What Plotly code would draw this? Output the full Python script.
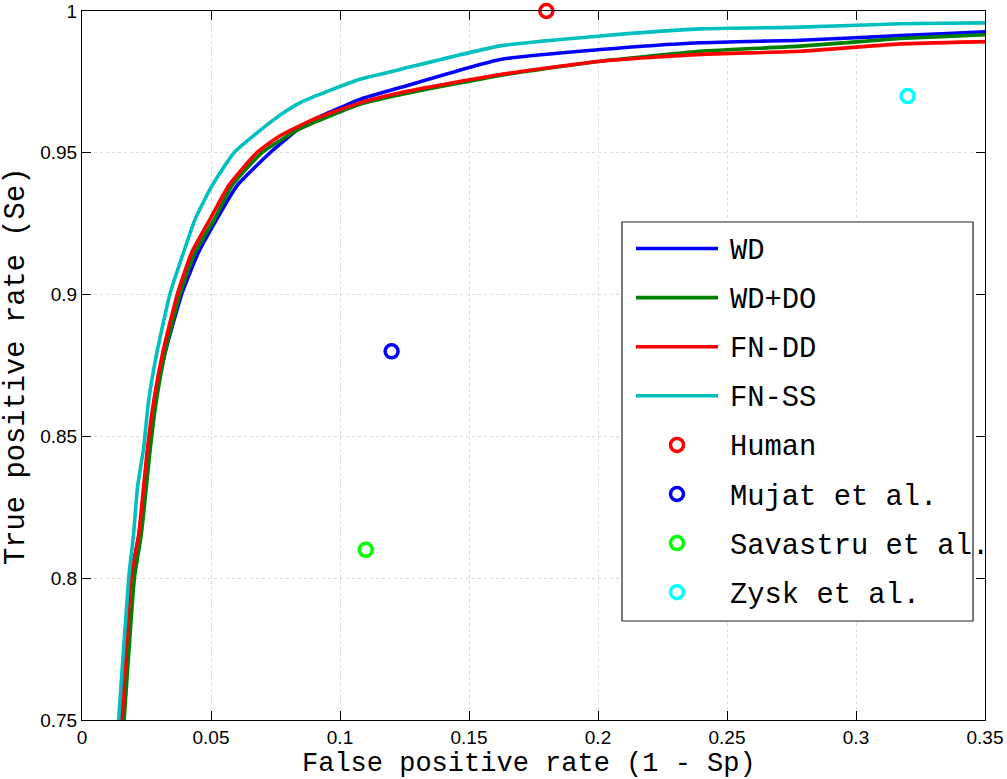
import plotly.graph_objects as go

# ---------------- data ----------------
series_names = ["WD", "WD+DO", "FN-DD", "FN-SS"]
series_colors = ["#0000ff", "#008000", "#ff0000", "#00bfbf"]

wd_x = [0.0140, 0.0149, 0.0188, 0.0222, 0.0258, 0.0281, 0.0323, 0.0388, 0.0452, 0.0523,
        0.0601, 0.0730, 0.0846, 0.0900, 0.1080, 0.1234, 0.1621, 0.2009, 0.2396, 0.2784,
        0.3171, 0.3500, 0.3600]
wd_y = [0.745, 0.750, 0.800, 0.8156, 0.8460, 0.8624, 0.8799, 0.9006, 0.9150, 0.9267,
        0.9384, 0.9501, 0.9589, 0.9618, 0.9689, 0.9730, 0.9829, 0.9864, 0.9888, 0.9897,
        0.9913, 0.9927, 0.9930]

wddo_x = [0.0157, 0.0163, 0.0203, 0.0230, 0.0265, 0.0288, 0.0323, 0.0381, 0.0439, 0.0514,
          0.0581, 0.0698, 0.0846, 0.1080, 0.1234, 0.1621, 0.2009, 0.2396, 0.2784, 0.3171,
          0.3500, 0.3600]
wddo_y = [0.745, 0.750, 0.800, 0.8156, 0.8460, 0.8624, 0.8799, 0.9006, 0.9150, 0.9267,
          0.9384, 0.9501, 0.9585, 0.9672, 0.9705, 0.9773, 0.9823, 0.9858, 0.9876, 0.9903,
          0.9916, 0.9920]

fndd_x = [0.0150, 0.0155, 0.0190, 0.0220, 0.0254, 0.0278, 0.0314, 0.0371, 0.0426, 0.0497,
          0.0568, 0.0678, 0.0768, 0.0845, 0.0897, 0.1080, 0.1234, 0.1621, 0.2009, 0.2396,
          0.2784, 0.3171, 0.3500, 0.3600]
fndd_y = [0.745, 0.750, 0.800, 0.8156, 0.8460, 0.8624, 0.8799, 0.9006, 0.9150, 0.9267,
          0.9384, 0.9501, 0.9560, 0.9596, 0.9618, 0.9677, 0.9712, 0.9776, 0.9823, 0.9847,
          0.9858, 0.9884, 0.9892, 0.9894]

fnss_x = [0.0137, 0.0142, 0.0181, 0.0200, 0.0215, 0.0239, 0.0258, 0.0291, 0.0342,
          0.0394, 0.0439, 0.0504, 0.0590, 0.0745, 0.0846, 0.1080, 0.1234, 0.1621, 0.2009,
          0.2396, 0.2784, 0.3171, 0.3500, 0.3600]
fnss_y = [0.745, 0.750, 0.800, 0.8156, 0.8320, 0.8460, 0.8624, 0.8799, 0.9006,
          0.9150, 0.9267, 0.9384, 0.9501, 0.9618, 0.9677, 0.9760, 0.9794, 0.9877, 0.9912,
          0.9937, 0.9943, 0.9955, 0.9958, 0.9960]

series_x = [wd_x, wddo_x, fndd_x, fnss_x]
series_y = [wd_y, wddo_y, fndd_y, fnss_y]

point_names = ["Human", "Mujat et al.", "Savastru et al.", "Zysk et al."]
point_x = [0.18, 0.12, 0.11, 0.32]
point_y = [1.00, 0.88, 0.81, 0.97]
point_colors = ["#ff0000", "#0000ff", "#00ff00", "#00ffff"]

x_tickvals = [0, 0.05, 0.1, 0.15, 0.2, 0.25, 0.3, 0.35]
x_ticktext = ["0", "0.05", "0.1", "0.15", "0.2", "0.25", "0.3", "0.35"]
y_tickvals = [0.75, 0.8, 0.85, 0.9, 0.95, 1.0]
y_ticktext = ["0.75", "0.8", "0.85", "0.9", "0.95", "1"]

x_title = "False positive rate (1 - Sp)"
y_title = "True positive rate (Se)"

# ---------------- figure ----------------
W, H = 1007, 779
ML, MR, MT, MB = 82, 22, 11, 59
PW, PH = W - ML - MR, H - MT - MB

fig = go.Figure()
for name, col, xs, ys in zip(series_names, series_colors, series_x, series_y):
    fig.add_trace(go.Scatter(x=xs, y=ys, mode="lines", name=name,
                             line=dict(color=col, width=3.6, shape="spline", smoothing=0.5),
                             showlegend=False))
for name, col, px_, py_ in zip(point_names, point_colors, point_x, point_y):
    fig.add_trace(go.Scatter(x=[px_], y=[py_], mode="markers", name=name,
                             marker=dict(symbol="circle-open", size=13, color=col,
                                         line=dict(color=col, width=3.5)),
                             cliponaxis=False, showlegend=False))

mono = "Liberation Mono, Courier New, monospace"
sans = "Liberation Sans, Arial, sans-serif"

axis_common = dict(
    showline=True, linecolor="black", linewidth=1, mirror="ticks",
    ticks="inside", ticklen=9, tickcolor="black", tickwidth=1,
    showgrid=True, gridcolor="#dadada", griddash="dot", gridwidth=1,
    zeroline=False, ticklabeloverflow="allow",
    tickfont=dict(family=sans, size=19, color="black"),
)
fig.update_xaxes(range=[0, 0.35], tickvals=x_tickvals, ticktext=x_ticktext, **axis_common)
fig.update_yaxes(range=[0.75, 1.0], tickvals=y_tickvals, ticktext=y_ticktext, **axis_common)

# ---------------- helpers for paper-pixel placement ----------------
def px2x(p):
    return (p - ML) / PW

def py2y(p):
    return (H - MB - p) / PH

annotations = [
    dict(xref="paper", yref="paper", x=px2x(529), y=py2y(763.5), text=x_title,
         showarrow=False, xanchor="center", yanchor="middle",
         font=dict(family=mono, size=27, color="black")),
    dict(xref="paper", yref="paper", x=px2x(16), y=py2y(367), text=y_title,
         showarrow=False, xanchor="center", yanchor="middle", textangle=-90,
         font=dict(family=mono, size=28.8, color="black")),
]

# ---------------- legend (drawn in paper coordinates) ----------------
box_l, box_r, box_t, box_b = 622, 973, 222, 621
shapes = [dict(type="rect", xref="paper", yref="paper",
               x0=px2x(box_l), x1=px2x(box_r), y0=py2y(box_b), y1=py2y(box_t),
               line=dict(color="#222222", width=1.2), fillcolor="white", layer="above")]
row0, dy = 248.5, 49.1
line_l, line_r, text_l = 636, 718, 728
labels = series_names + point_names
for i, lab in enumerate(labels):
    yy = row0 + i * dy
    if i < len(series_names):
        shapes.append(dict(type="line", xref="paper", yref="paper",
                           x0=px2x(line_l), x1=px2x(line_r), y0=py2y(yy), y1=py2y(yy),
                           line=dict(color=series_colors[i], width=3.6), layer="above"))
    else:
        c = point_colors[i - len(series_names)]
        cx, r = (line_l + line_r) / 2, 6.5
        shapes.append(dict(type="circle", xref="paper", yref="paper",
                           x0=px2x(cx - r), x1=px2x(cx + r),
                           y0=py2y(yy + r), y1=py2y(yy - r),
                           line=dict(color=c, width=3.5), layer="above"))
    annotations.append(dict(xref="paper", yref="paper", x=px2x(text_l), y=py2y(yy + 3),
                            text=lab, showarrow=False, xanchor="left", yanchor="middle",
                            font=dict(family=mono, size=28.8, color="black")))

fig.update_layout(
    width=W, height=H,
    margin=dict(l=ML, r=MR, t=MT, b=MB, autoexpand=False),
    paper_bgcolor="white", plot_bgcolor="white",
    showlegend=False, shapes=shapes, annotations=annotations,
)

fig.write_html("out.html")
